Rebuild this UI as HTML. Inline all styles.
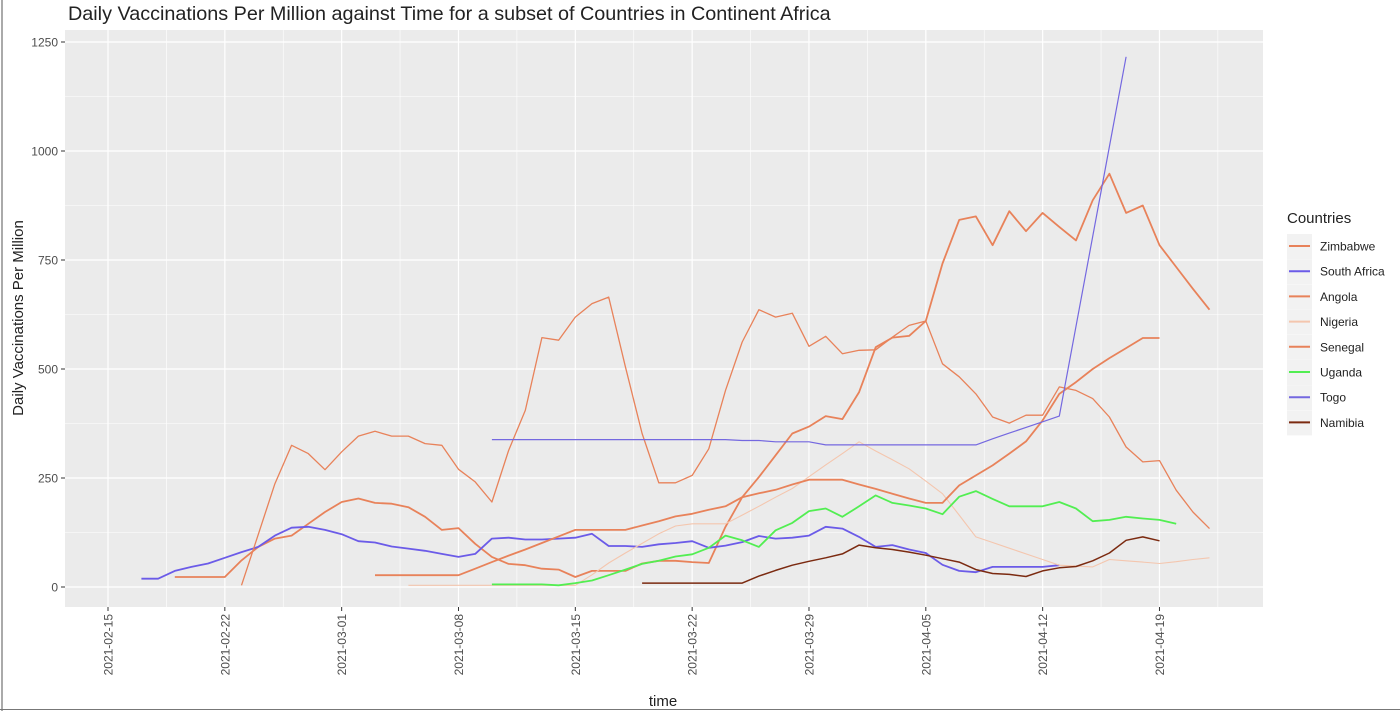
<!DOCTYPE html>
<html><head><meta charset="utf-8">
<style>
html,body{margin:0;padding:0;background:#fff;}
body{width:1400px;height:711px;overflow:hidden;position:relative;font-family:"Liberation Sans",Arial,sans-serif;}
svg text{font-family:"Liberation Sans",Arial,sans-serif;}
</style></head>
<body>
<svg id="chart" width="1400" height="711" viewBox="0 0 1400 711" xmlns="http://www.w3.org/2000/svg">
<line x1="2" y1="0" x2="2" y2="711" stroke="#555" stroke-width="1"/>
<line x1="0" y1="709.5" x2="1400" y2="709.5" stroke="#777" stroke-width="1"/>
<text x="68" y="20" font-size="19.8" fill="#222">Daily Vaccinations Per Million against Time for a subset of Countries in Continent Africa</text>
<rect x="65" y="30" width="1198" height="577" fill="#ebebeb"/>
<g id="grid"></g>
<g id="series"></g>
<g id="axes"></g>
<text x="663" y="706" font-size="15" fill="#222" text-anchor="middle">time</text>
<text transform="translate(23,318) rotate(-90)" font-size="15" fill="#222" text-anchor="middle">Daily Vaccinations Per Million</text>
<g id="legend">
<text x="1287" y="223" font-size="15" fill="#222">Countries</text>
</g>
</svg>
<script>
const countryNames = ["Zimbabwe","South Africa","Angola","Nigeria","Senegal","Uganda","Togo","Namibia"];
const countryColors = ["#e8825a","#6b5be8","#e8825a","#f4c6ae","#e8825a","#52ee52","#7468e0","#7b2a10"];
const countryWidths = [1.8,1.8,1.3,1.1,1.8,1.8,1.2,1.5];
const startDays = [4,2,8,18,16,23,23,32];
const zimbabwe = [23,23,23,23,61,92,111,118,145,172,195,203,193,191,183,161,131,135,99,69,53,50,42,40,23,37,37,37,54,60,60,57,55,138,206,252,302,352,368,392,385,447,550,572,576,610,742,842,850,784,862,816,858,826,795,887,948,858,875,784,734,684,636];
const southAfrica = [19,19,37,46,54,67,80,92,118,136,138,131,121,105,102,93,88,83,76,69,76,111,113,109,109,111,113,122,94,94,92,98,101,105,90,95,103,117,111,113,118,138,134,115,92,96,86,78,51,37,34,46,46,46,46,50];
const angola = [4,120,237,325,306,269,310,346,357,346,346,329,325,270,241,195,313,405,572,566,619,650,665,505,352,239,239,256,317,451,562,636,619,628,552,575,535,543,544,573,600,610,512,482,443,390,376,394,394,459,451,432,390,321,287,290,222,172,134];
const nigeria = [4,4,4,4,4,4,4,4,4,4,4,28,55,78,100,122,140,145,145,145,165,185,206,226,253,280,306,333,312,292,271,243,214,165,115,102,89,76,63,50,48,46,63,60,57,54,58,63,67];
const senegal = [27,27,27,27,27,27,42,57,72,86,101,116,131,131,131,131,141,151,162,168,177,185,206,215,223,235,246,246,246,235,225,214,203,193,193,233,256,279,306,334,382,443,470,500,525,548,571,571];
const uganda = [6,6,6,6,4,9,15,27,40,53,60,70,75,90,118,107,92,130,147,174,180,161,185,210,193,187,180,167,207,220,202,185,185,185,195,180,151,154,161,157,154,145];
const togo = [338,338,338,338,338,338,338,338,338,338,338,338,338,338,338,336,336,333,333,333,326,326,326,326,326,326,326,326,326,326,340,353,366,379,392,598,804,1010,1216];
const namibia = [9,9,9,9,9,9,9,25,38,50,59,67,76,96,90,86,80,73,65,57,40,31,29,24,37,44,47,60,78,107,115,106];
const seriesValues = [zimbabwe,southAfrica,angola,nigeria,senegal,uganda,togo,namibia];
const yTicks = [0,250,500,750,1000,1250];
const xTickLabels = ["2021-02-15","2021-02-22","2021-03-01","2021-03-08","2021-03-15","2021-03-22","2021-03-29","2021-04-05","2021-04-12","2021-04-19"];

const NS="http://www.w3.org/2000/svg";
const X0=65,X1=1263,Y0=30,Y1=607;
function xs(d){return 108+d*16.69;}
function ys(v){return 587-v*0.436;}
function mk(tag,attrs,parent){const e=document.createElementNS(NS,tag);for(const k in attrs)e.setAttribute(k,attrs[k]);parent.appendChild(e);return e;}
const grid=document.getElementById('grid'),axes=document.getElementById('axes'),ser=document.getElementById('series'),leg=document.getElementById('legend');
for(let v=-125;v<=1375;v+=250){const y=ys(v);if(y<Y0||y>Y1)continue;
 const l=mk('line',{x1:X0,x2:X1,y1:y,y2:y,stroke:'#fff','stroke-width':0.6},grid);
 
 }
for(let i=-1;i<xTickLabels.length+1;i++){const x=xs(i*7+3.5);if(x<X0||x>X1)continue;
 const l=mk('line',{x1:x,x2:x,y1:Y0,y2:Y1,stroke:'#fff','stroke-width':0.6},grid);
 
 }
yTicks.forEach(v=>{const y=ys(v);
 const l=mk('line',{x1:X0,x2:X1,y1:y,y2:y,stroke:'#fff','stroke-width':1.2},grid);
 
 
 const t=mk('line',{x1:61,x2:65,y1:y,y2:y,stroke:'#333','stroke-width':1},axes);
 
 
 const tx=mk('text',{x:58,y:y+4.5,'font-size':12,fill:'#4d4d4d','text-anchor':'end'},axes);
 tx.textContent=v;
 
 });
xTickLabels.forEach((lab,i)=>{const x=xs(i*7);
 const l=mk('line',{x1:x,x2:x,y1:Y0,y2:Y1,stroke:'#fff','stroke-width':1.2},grid);
 
 
 const t=mk('line',{x1:x,x2:x,y1:607,y2:611,stroke:'#333','stroke-width':1},axes);
 
 
 const tx=mk('text',{transform:`translate(${x+4.5},614) rotate(-90)`,'font-size':12,fill:'#4d4d4d','text-anchor':'end'},axes);
 tx.textContent=lab;
 
 });
seriesValues.forEach((vals,s)=>{
 const pts=vals.map((v,i)=>xs(startDays[s]+i).toFixed(1)+','+ys(v).toFixed(1)).join(' ');
 const p=mk('polyline',{points:pts,fill:'none',stroke:countryColors[s],'stroke-width':countryWidths[s],'stroke-linejoin':'round'},ser);
 
 
});
countryNames.forEach((n,i)=>{const cy=246+i*25.2;
 const r=mk('rect',{x:1287,y:cy-12,width:25,height:25,fill:'#f2f2f2'},leg);
 
 
 const l=mk('line',{x1:1289,x2:1310,y1:cy,y2:cy,stroke:countryColors[i],'stroke-width':2},leg);
 
 
 const t=mk('text',{x:1320,y:cy+4.5,'font-size':12,fill:'#222'},leg);
 t.textContent=n;
 
 });
</script>
</body></html>
